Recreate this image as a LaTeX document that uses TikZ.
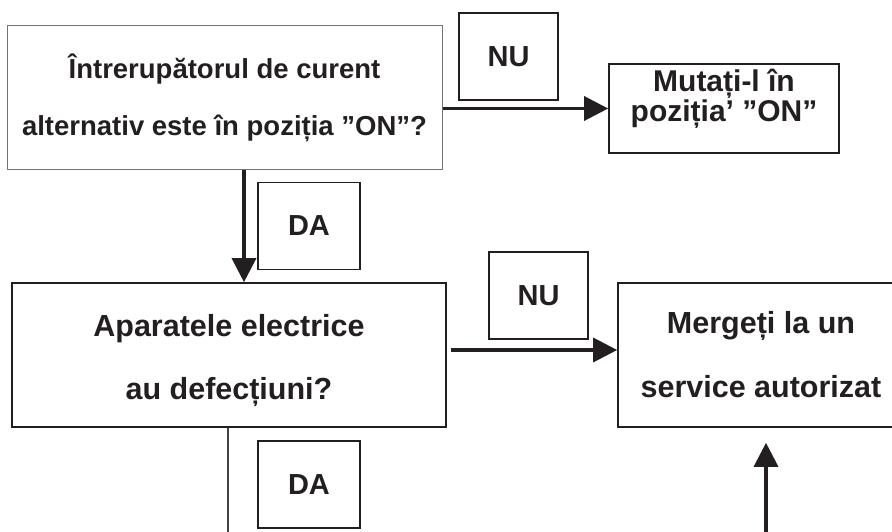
\documentclass[tikz,border=0pt]{standalone}
\usepackage{fontspec}
\setmainfont{Liberation Sans}
\usetikzlibrary{arrows.meta,calc}
\definecolor{ink}{HTML}{231F20}
\tikzset{
  qbox/.style={draw=ink, line width=1.6pt, rectangle, inner sep=0pt, align=center, text=ink, font=\bfseries},
  lbox/.style={draw=ink, line width=1.5pt, rectangle, inner sep=0pt, text=ink, font=\bfseries\fontsize{29}{30}\selectfont, minimum width=102pt, minimum height=87pt},
  arr/.style={draw=ink, line width=3.2pt, -{Triangle[length=24pt,width=24pt]}},
  thinline/.style={draw=ink!85, line width=1.4pt}
}
\begin{document}
\begin{tikzpicture}[x=1pt,y=-1pt]
\useasboundingbox (0,0) rectangle (892,532);
\clip (0,0) rectangle (892,532);
% boxes
\node[qbox, draw=black!55, line width=1pt, minimum width=435pt, minimum height=144pt,
      font=\bfseries\fontsize{27.5}{57}\selectfont] (box1) at (224.5,98)
  {Întrerupătorul de curent\\alternativ este în poziția ”ON”?};
\node[qbox, minimum width=230pt, minimum height=89pt] (mut) at (724,108.5) {};
\node[text=ink, font=\bfseries\fontsize{30}{27}\selectfont, align=center, inner sep=0pt]
  (muttext) at ([yshift=10pt]mut.center) {Mutați-l în\\poziția’ ”ON”};
\node[qbox, minimum width=434pt, minimum height=144pt] (box2) at (229,355) {};
\node[text=ink, font=\bfseries\fontsize{30.5}{63}\selectfont, align=center, inner sep=0pt]
  (box2text) at ([yshift=-5pt]box2.center) {Aparatele electrice\\au defecțiuni?};
\node[qbox, minimum width=286pt, minimum height=144pt,
      font=\bfseries\fontsize{30.5}{64}\selectfont] (box3) at (761,355)
  {Mergeți la un\\service autorizat};
% labels
\node[lbox, minimum width=99pt] (nu1) at (508.5,56.5) {NU};
\node[lbox, minimum width=99pt] (nu2) at (538.5,295.5) {NU};
\node[lbox] (da1) at (309,226) {DA};
\node[lbox] (da2) at (309,484.5) {DA};
% connectors
\coordinate (v1) at (244,0);
\coordinate (bot1) at (228,532);
\coordinate (bot2) at (766,532);
\draw[arr] (box1.east |- mut.west) -- (mut.west);
\draw[arr] (box1.south -| v1) -- (box2.north -| v1);
\draw[arr] ([xshift=4pt,yshift=5pt]box2.east) -- ([yshift=5pt]box3.west);
\draw[thinline] (box2.south -| bot1) -- (bot1);
\draw[arr] (bot2) -- ([yshift=-15pt]box3.south -| bot2);
\end{tikzpicture}
\end{document}
